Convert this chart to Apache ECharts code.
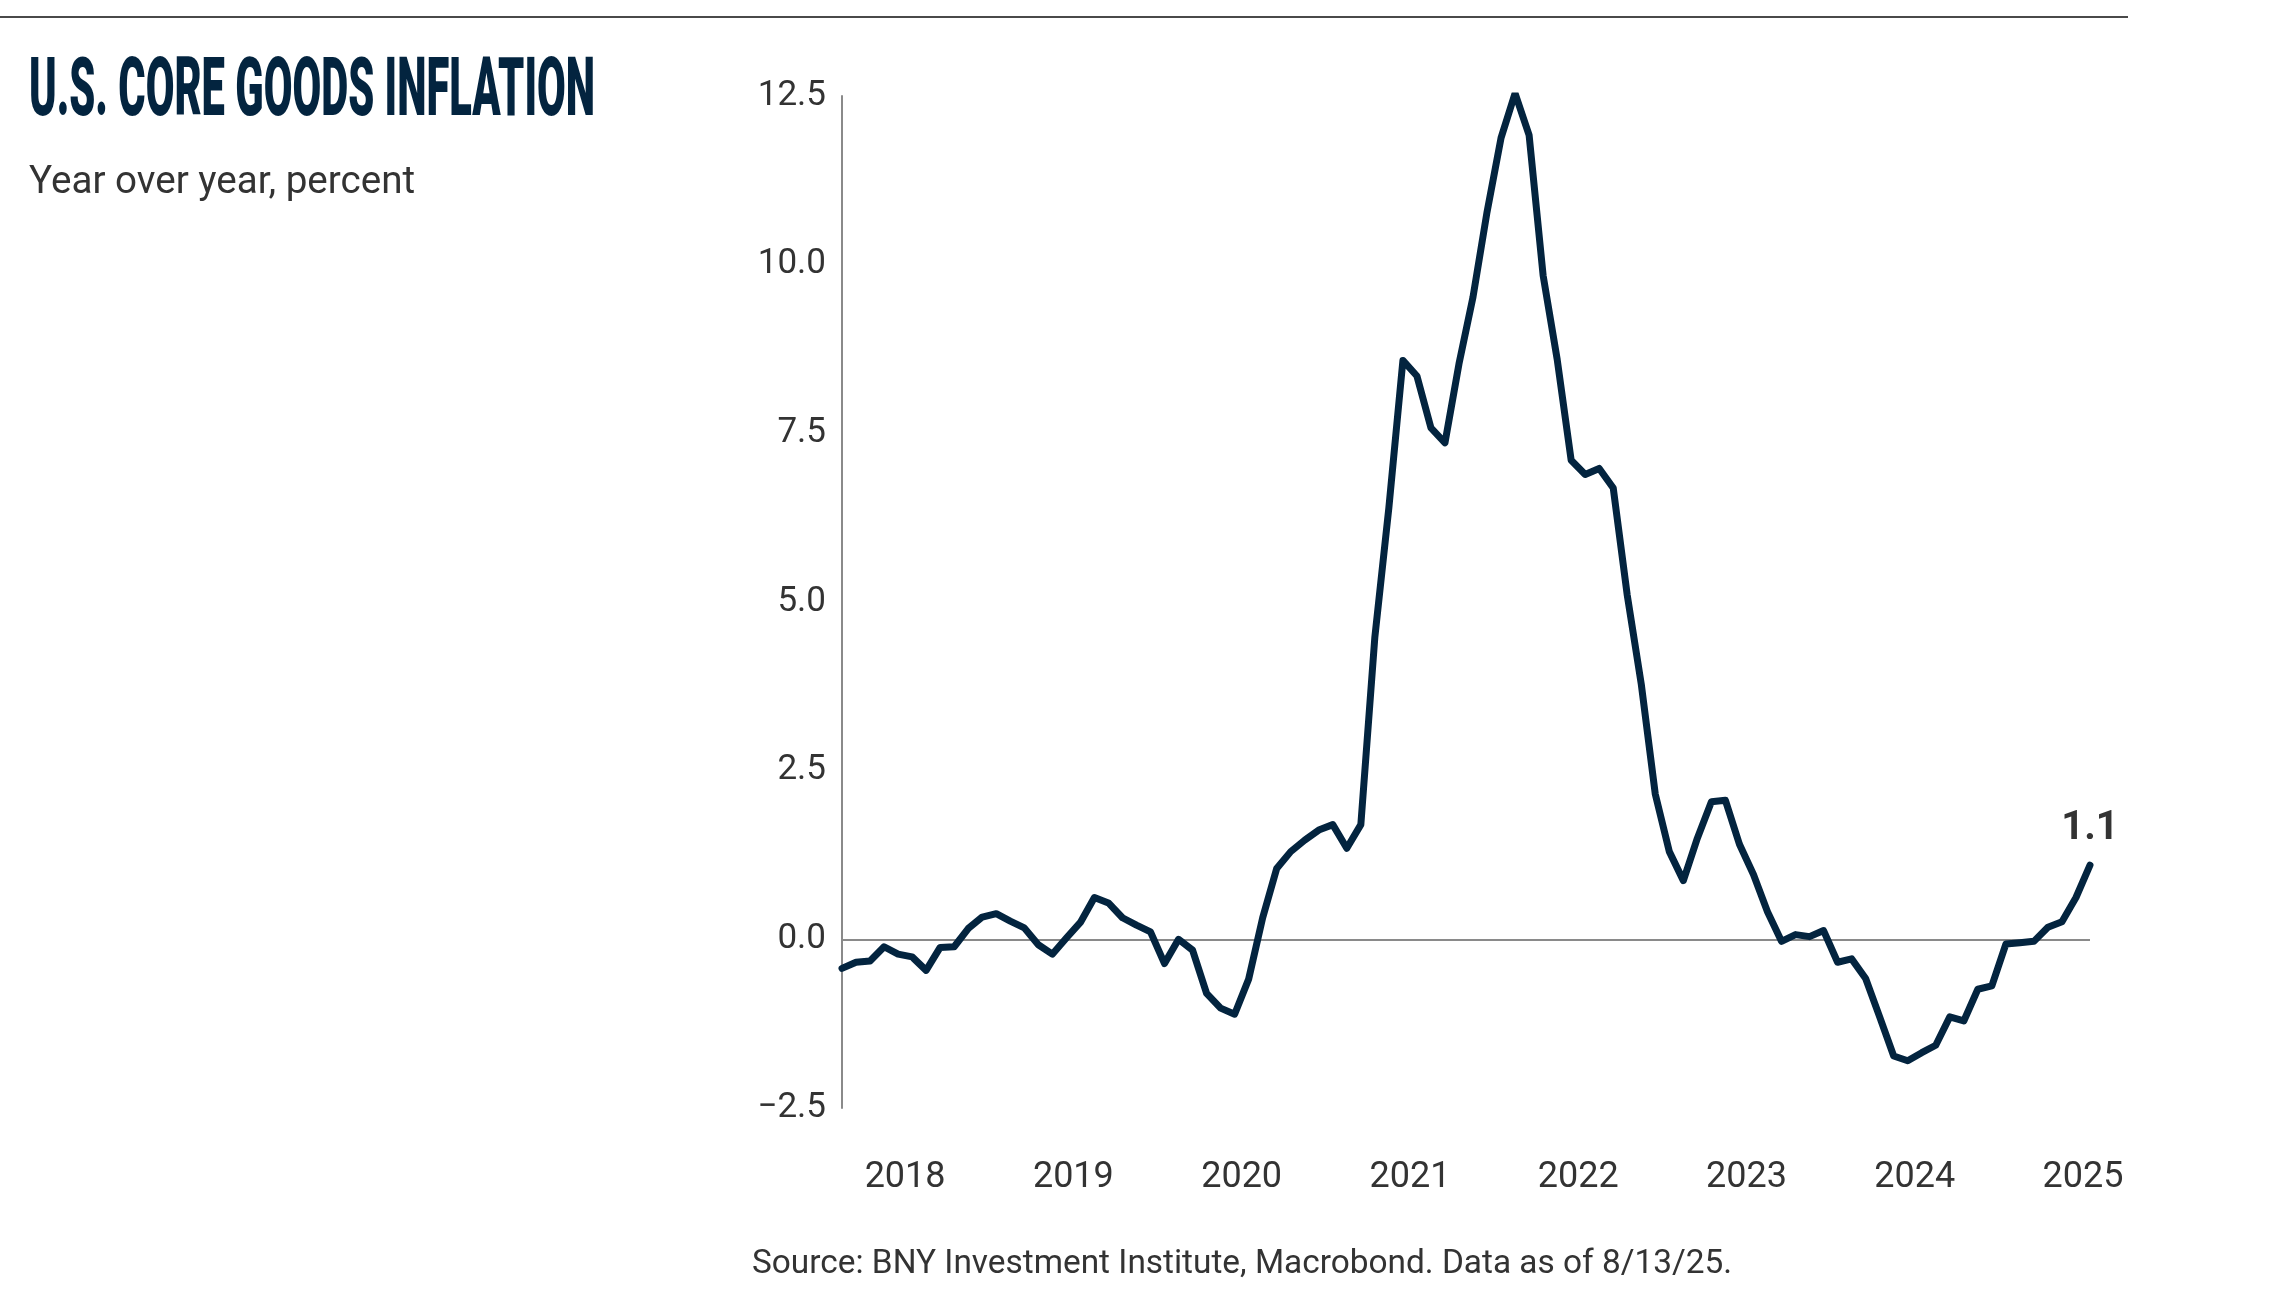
<!DOCTYPE html>
<html>
<head>
<meta charset="utf-8">
<script src="https://cdn.jsdelivr.net/npm/echarts@6/dist/echarts.min.js"></script>
<style>
  html, body { margin: 0; padding: 0; background: #ffffff; }
  #chart { width: 2281px; height: 1303px; }
</style>
</head>
<body>
<div id="chart"></div>
<script>
// ---- Data ----
const titleText = 'U.S. CORE GOODS INFLATION';
const subtitleText = 'Year over year, percent';
const sourceText = 'Source: BNY Investment Institute, Macrobond. Data as of 8/13/25.';

// Monthly observations, first month = Feb 2018, last = Jul 2025
const startYear = 2018;
const startMonth = 2;
const coreGoodsYoY = [
  -0.43, -0.34, -0.32, -0.11, -0.22, -0.26, -0.46, -0.12, -0.11, 0.16, 0.33,   // 2018 Feb-Dec
  0.38, 0.27, 0.17, -0.08, -0.22, 0.02, 0.25, 0.62, 0.54, 0.32, 0.21, 0.11,    // 2019
  -0.36, 0.00, -0.16, -0.80, -1.02, -1.11, -0.59, 0.32, 1.05, 1.30, 1.47, 1.62, // 2020
  1.70, 1.35, 1.70, 4.48, 6.40, 8.58, 8.35, 7.58, 7.36, 8.53, 9.52, 10.78,     // 2021
  11.88, 12.54, 11.92, 9.84, 8.60, 7.10, 6.89, 6.98, 6.69, 5.10, 3.78, 2.15,   // 2022
  1.30, 0.87, 1.50, 2.04, 2.06, 1.41, 0.96, 0.41, -0.03, 0.07, 0.04, 0.13,     // 2023
  -0.34, -0.29, -0.58, -1.15, -1.73, -1.80, -1.68, -1.57, -1.15, -1.21, -0.74, -0.69, // 2024
  -0.07, -0.05, -0.03, 0.18, 0.26, 0.62, 1.10                                   // 2025 Jan-Jul
];
const yearLabels = ['2018', '2019', '2020', '2021', '2022', '2023', '2024', '2025'];
const yTicks = [-2.5, 0, 2.5, 5, 7.5, 10, 12.5];

// month categories ("YYYY-MM")
const months = coreGoodsYoY.map((_, i) => {
  const m0 = startMonth - 1 + i;
  const y = startYear + Math.floor(m0 / 12);
  const m = (m0 % 12) + 1;
  return y + '-' + String(m).padStart(2, '0');
});

// ---- Build chart ----
const NAVY = '#03243f';
const TEXT = '#333333';
const FONT = 'Roboto, "Noto Sans", sans-serif';

function monthToX(s) {
  const [y, m] = s.split('-').map(Number);
  return y + (m - 0.5) / 12;
}

const seriesData = coreGoodsYoY.map((v, i) => [monthToX(months[i]), v]);
const lastPoint = seriesData[seriesData.length - 1];

const canvas = document.createElement('canvas');
const ctx = canvas.getContext('2d');
function measure(text, font) { ctx.font = font; return ctx.measureText(text).width; }

const titleSize = 81;
const titleFont = '900 ' + titleSize + 'px Roboto';
const titleScaleX = 566 / measure(titleText, titleFont);

const subSize = Math.min(40, 100 * 386 / measure(subtitleText, '400 100px Roboto'));
const srcSize = Math.min(36, 100 * 980 / measure(sourceText, '400 100px Roboto'));

const chart = echarts.init(document.getElementById('chart'), null, { renderer: 'canvas' });

const transparent = 'rgba(0,0,0,0)';
const splitColors = yTicks.map(t => (t === 0 ? '#8a8a8a' : transparent));

chart.setOption({
  animation: false,
  backgroundColor: '#ffffff',
  grid: { left: 842, right: 191, top: 96, bottom: 195, containLabel: false },
  xAxis: {
    type: 'value',
    min: monthToX(months[0]),
    max: monthToX(months[months.length - 1]),
    axisLine: { show: false },
    axisTick: { show: false },
    splitLine: { show: false },
    axisLabel: {
      customValues: yearLabels.map(y => Number(y) + 0.5),
      formatter: (v) => String(Math.floor(v)),
      fontFamily: FONT,
      fontSize: 36,
      color: TEXT,
      margin: 52
    }
  },
  yAxis: {
    type: 'value',
    min: yTicks[0],
    max: yTicks[yTicks.length - 1],
    interval: 2.5,
    axisLine: { show: true, lineStyle: { color: '#8a8a8a', width: 2 } },
    axisTick: { show: false },
    splitLine: { show: true, lineStyle: { color: splitColors, width: 2 } },
    axisLabel: {
      formatter: (v) => (v < 0 ? '\u2212' : '') + Math.abs(v).toFixed(1),
      fontFamily: FONT,
      fontSize: 35,
      color: TEXT,
      margin: 16,
      padding: [10, 0, 0, 0]
    }
  },
  series: [{
    type: 'line',
    data: seriesData,
    showSymbol: false,
    symbol: 'none',
    z: 5,
    lineStyle: { color: NAVY, width: 7, join: 'round', cap: 'round' },
    emphasis: { disabled: true },
    markPoint: {
      silent: true,
      symbol: 'circle',
      symbolSize: 1,
      itemStyle: { color: transparent },
      data: [{
        coord: lastPoint,
        value: lastPoint[1],
        label: {
          show: true,
          position: 'top',
          distance: 16,
          formatter: (p) => Number(p.value).toFixed(1),
          fontFamily: FONT,
          fontSize: 40,
          fontWeight: 'bold',
          color: TEXT
        }
      }]
    }
  }],
  graphic: [
    {
      type: 'line',
      shape: { x1: 0, y1: 17, x2: 2128, y2: 17 },
      style: { stroke: '#4a4a4a', lineWidth: 2 }
    },
    {
      type: 'text',
      x: 29, y: 95,
      scaleX: titleScaleX,
      style: {
        text: titleText,
        font: titleFont,
        fill: NAVY,
        textAlign: 'left',
        textVerticalAlign: 'middle'
      }
    },
    {
      type: 'text',
      x: 29, y: 183,
      style: {
        text: subtitleText,
        font: '400 ' + subSize.toFixed(1) + 'px Roboto',
        fill: TEXT,
        textAlign: 'left',
        textVerticalAlign: 'middle'
      }
    },
    {
      type: 'text',
      x: 752, y: 1265,
      style: {
        text: sourceText,
        font: '400 ' + srcSize.toFixed(1) + 'px Roboto',
        fill: TEXT,
        textAlign: 'left',
        textVerticalAlign: 'middle'
      }
    }
  ]
});
</script>
</body>
</html>
